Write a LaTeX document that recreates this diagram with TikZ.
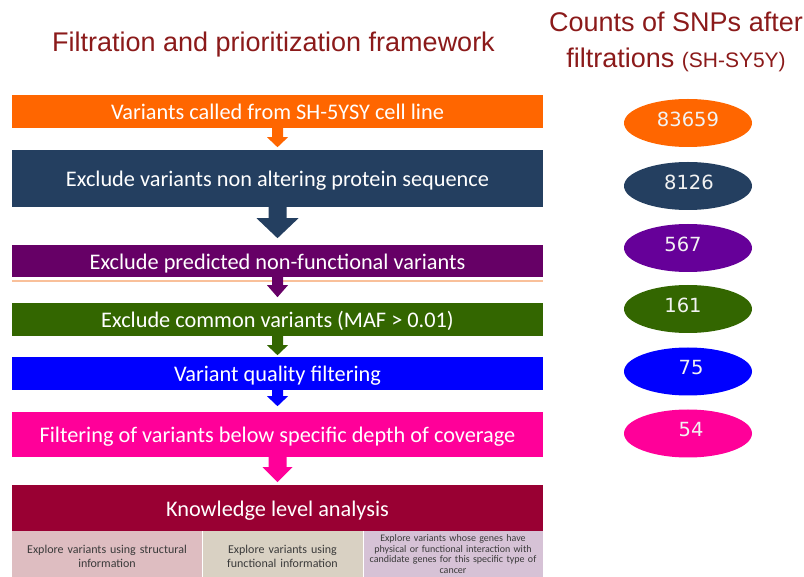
\documentclass[tikz,border=0pt]{standalone}
\usepackage{fontspec}
\setmainfont{Carlito}
\newfontfamily\headfont{Liberation Sans}
\newfontfamily\numfont{DejaVu Sans}
\usetikzlibrary{shapes.geometric,calc}

\definecolor{titlered}{RGB}{139,26,26}
\definecolor{cOrange}{HTML}{FF6600}
\definecolor{cNavy}{HTML}{243F60}
\definecolor{cPurple}{HTML}{660066}
\definecolor{cViolet}{HTML}{660099}
\definecolor{cGreen}{HTML}{336600}
\definecolor{cBlue}{HTML}{0000FF}
\definecolor{cPink}{HTML}{FF0099}
\definecolor{cWine}{HTML}{990033}
\definecolor{cPeach}{HTML}{F9C09A}
\definecolor{boxA}{HTML}{DEBDC1}
\definecolor{boxB}{HTML}{D9D1C3}
\definecolor{boxC}{HTML}{D6C2D6}
\definecolor{boxtext}{HTML}{3A3A3A}

% downward block arrow hanging below a node:
% #1 colour, #2 node, #3 shaft half width, #4 head half width,
% #5 shaft length, #6 head length
\newcommand\blockarrow[6]{%
  \fill[#1] ($(#2.south)+(-#3,0)$) -- ($(#2.south)+(-#3,#5)$)
    -- ($(#2.south)+(-#4,#5)$) -- ($(#2.south)+(0,{#5+#6})$)
    -- ($(#2.south)+(#4,#5)$) -- ($(#2.south)+(#3,#5)$)
    -- ($(#2.south)+(#3,0)$) -- cycle;}

\begin{document}
\begin{tikzpicture}[x=1pt,y=-1pt,
  bar/.style={rectangle, inner sep=0pt, minimum width=531pt,
    text=white, text height=16.1pt, text depth=0pt,
    font=\fontsize{22.3}{26}\selectfont},
  info/.style={rectangle, inner sep=0pt, minimum height=50pt,
    text=boxtext, align=center},
  count/.style={ellipse, inner sep=0pt, minimum width=128pt,
    minimum height=48pt},
  countnum/.style={text=white!95!black, inner sep=0pt, yshift=4pt,
    font=\numfont\fontsize{19.5}{22}\selectfont},
  heading/.style={text=titlered, inner sep=0pt, anchor=base,
    font=\headfont\fontsize{27}{30}\selectfont}]

\useasboundingbox (0,0) rectangle (804,577);

% headings
\node[heading] (t1) at (273.5,52) {Filtration and prioritization framework};
\node[heading] (t2) at (676,31.5) {Counts of SNPs after};
\node[heading] (t3) at (676,67.5) {filtrations {\fontsize{21}{24}\selectfont(SH-SY5Y)}};

% filtering steps
\node[bar, fill=cOrange, minimum height=33pt] (s1) at (277.5,111.5)
  {Variants called from SH-5YSY cell line};
\node[bar, fill=cNavy, minimum height=57pt] (s2) at (277.5,178.5)
  {Exclude variants non altering protein sequence};
\node[bar, fill=cPurple, minimum height=32pt] (s3) at (277.5,261)
  {Exclude predicted non-functional variants};
\node[bar, fill=cGreen, minimum height=33pt] (s4) at (277.5,319.5)
  {Exclude common variants (MAF > 0.01)};
\node[bar, fill=cBlue, minimum height=33pt] (s5) at (277.5,373.5)
  {Variant quality filtering};
\node[bar, fill=cPink, minimum height=45pt] (s6) at (277.5,434.5)
  {Filtering of variants below specific depth of coverage};
\node[bar, fill=cWine, minimum height=46pt] (s7) at (277.5,508)
  {Knowledge level analysis};

% thin rule under the third step
\draw[cPeach, line width=2pt] ($(s3.south west)+(0,4)$) -- ($(s3.south east)+(0,4)$);

% knowledge level sub-analyses (boxes run past the lower edge)
\node[info, fill=boxA, minimum width=190pt, text width=186pt,
  font=\fontsize{12}{14}\selectfont] (k1) at (107,556)
  {Explore variants using structural\\information};
\node[info, fill=boxB, minimum width=161pt, text width=157pt,
  font=\fontsize{12}{14}\selectfont] (k2) at (282.5,556)
  {Explore variants using\\functional information};
\node[info, fill=boxC, minimum width=180pt, text width=178pt,
  minimum height=46pt, font=\fontsize{10}{10.6}\selectfont] (k3) at (453,554)
  {Explore variants whose genes have\\physical or functional interaction with\\candidate genes for this specific type of\\cancer};
\draw[white, line width=0.8pt] (k1.north east) -- (k1.south east);
\draw[white, line width=0.8pt] (k2.north east) -- (k2.south east);

% arrows between steps
\blockarrow{cOrange}{s1}{5.5}{10.5}{9}{10}
\blockarrow{cNavy}{s2}{9}{21}{11}{20}
\blockarrow{cPurple}{s3}{5.5}{10.5}{8}{12}
\blockarrow{cGreen}{s4}{5.5}{10.5}{9}{10}
\blockarrow{cBlue}{s5}{5.5}{10.5}{6}{10}
\blockarrow{cPink}{s6}{9}{15}{10}{15}

% SNP counts
\node[count, fill=cOrange] (c1) at (688,123) {};
\node[count, fill=cNavy] (c2) at (688,186) {};
\node[count, fill=cViolet] (c3) at (688,248) {};
\node[count, fill=cGreen] (c4) at (688,309) {};
\node[count, fill=cBlue] (c5) at (688,371.5) {};
\node[count, fill=cPink] (c6) at (688,433.5) {};
\node[countnum] (n1) at (c1.center) {83659};
\node[countnum, xshift=1pt] (n2) at (c2.center) {8126};
\node[countnum, xshift=-5pt] (n3) at (c3.center) {567};
\node[countnum, xshift=-5pt] (n4) at (c4.center) {161};
\node[countnum, xshift=3pt] (n5) at (c5.center) {75};
\node[countnum, xshift=3pt] (n6) at (c6.center) {54};
\end{tikzpicture}
\end{document}
